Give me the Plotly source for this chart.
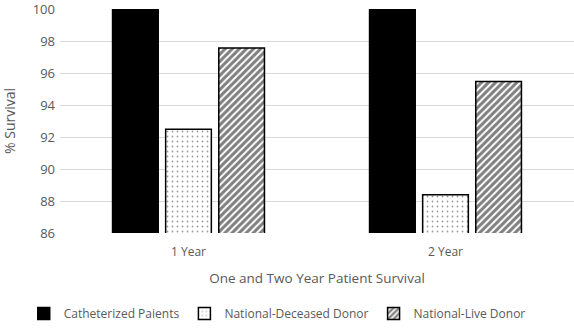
import plotly.graph_objects as go

categories = ["1 Year", "2 Year"]
catheterized = [100, 100]
deceased = [92.5, 88.4]
live = [97.6, 95.5]

series_names = ["Catheterized Paients", "National-Deceased Donor", "National-Live Donor"]
y_ticks = [86, 88, 90, 92, 94, 96, 98, 100]

fig = go.Figure()
fig.add_trace(go.Bar(
    x=categories, y=catheterized, name=series_names[0],
    marker=dict(color="black", line=dict(color="black", width=1.5)),
))
fig.add_trace(go.Bar(
    x=categories, y=deceased, name=series_names[1],
    marker=dict(color="white", line=dict(color="black", width=1.5),
                pattern=dict(shape=".", fgcolor="#333333", bgcolor="white", size=5, solidity=0.1)),
))
fig.add_trace(go.Bar(
    x=categories, y=live, name=series_names[2],
    marker=dict(color="white", line=dict(color="black", width=1.5),
                pattern=dict(shape="/", fgcolor="black", bgcolor="white", size=5, solidity=0.6)),
))

font_family = "Open Sans, Liberation Sans, sans-serif"
grey = "#595959"

fig.update_layout(
    width=574, height=328,
    margin=dict(l=60, r=0, t=9, b=95, autoexpand=False),
    paper_bgcolor="white", plot_bgcolor="white",
    barmode="group", bargap=0.38, bargroupgap=0.14,
    font=dict(family=font_family, color=grey, size=13),
    showlegend=True,
    legend=dict(orientation="h", xref="container", yref="container",
                x=0.483, xanchor="center", y=0.0, yanchor="bottom",
                font=dict(size=12, color=grey), traceorder="normal",
                itemwidth=30),
    xaxis=dict(showgrid=False, showline=False, ticks="", automargin=False,
               ticklabelstandoff=10,
               title=dict(text="One and Two Year Patient Survival", font=dict(size=13.5, color=grey), standoff=14),
               tickfont=dict(size=12, color=grey)),
    yaxis=dict(range=[86, 100.05], tickvals=y_ticks, showgrid=True, gridcolor="#d9d9d9", gridwidth=1,
               zeroline=False, showline=False, ticks="", automargin=False,
               ticklabelstandoff=4, ticklabeloverflow="allow",
               tickfont=dict(size=13, color=grey),
               title=dict(text="% Survival", font=dict(size=14, color=grey), standoff=18)),
)

fig.write_html("out.html")
